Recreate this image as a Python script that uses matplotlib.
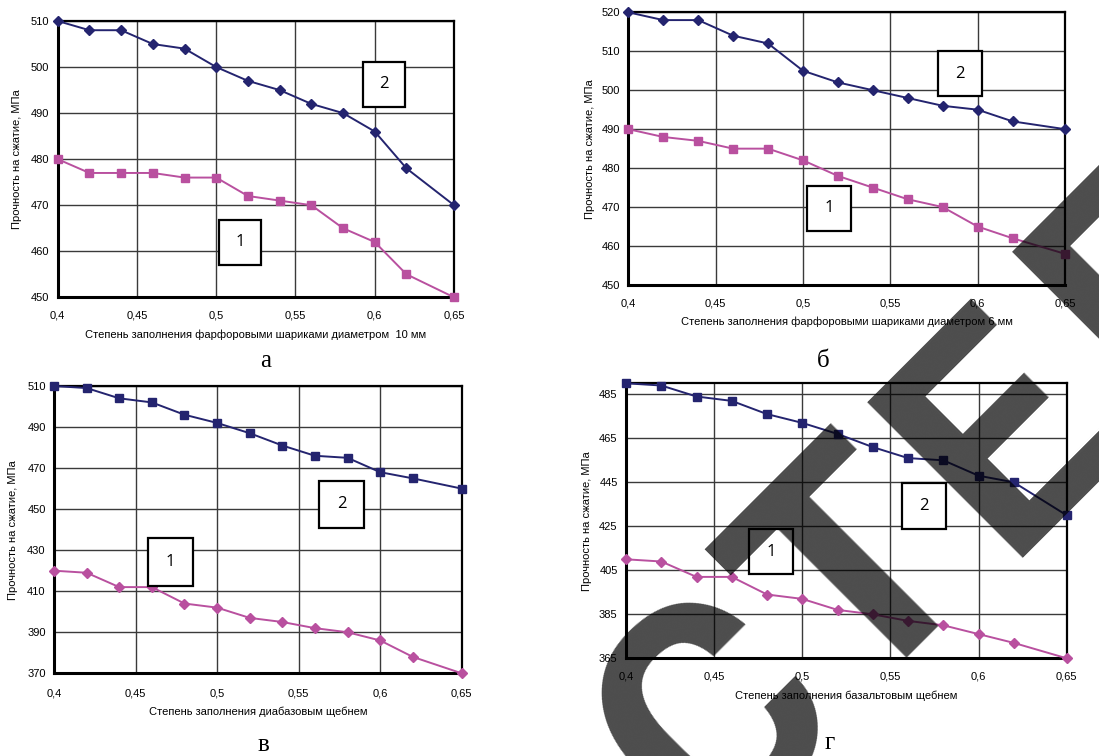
import matplotlib
matplotlib.use("Agg")
import matplotlib.pyplot as plt
from matplotlib.patches import Rectangle

W, H = 1099, 756
DPI = 100

# Filling degree (shared x values for all panels)
fill = [0.40, 0.42, 0.44, 0.46, 0.48, 0.50, 0.52, 0.54, 0.56, 0.58, 0.60, 0.62, 0.65]
x_ticks = [0.40, 0.45, 0.50, 0.55, 0.60, 0.65]
x_tick_labels = ["0,4", "0,45", "0,5", "0,55", "0,6", "0,65"]

# а: porcelain balls 10 mm
a_curve1 = [480, 477, 477, 477, 476, 476, 472, 471, 470, 465, 462, 455, 450]
a_curve2 = [510, 508, 508, 505, 504, 500, 497, 495, 492, 490, 486, 478, 470]
# б: porcelain balls 6 mm
b_curve1 = [490, 488, 487, 485, 485, 482, 478, 475, 472, 470, 465, 462, 458]
b_curve2 = [520, 518, 518, 514, 512, 505, 502, 500, 498, 496, 495, 492, 490]
# в: diabase crushed stone
v_curve1 = [420, 419, 412, 412, 404, 402, 397, 395, 392, 390, 386, 378, 370]
v_curve2 = [510, 509, 504, 502, 496, 492, 487, 481, 476, 475, 468, 465, 460]
# г: basalt crushed stone
g_curve1 = [410, 409, 402, 402, 394, 392, 387, 385, 382, 380, 376, 372, 365]
g_curve2 = [490, 489, 484, 482, 476, 472, 467, 461, 456, 455, 448, 445, 430]

y_label = "Прочность на сжатие, МПа"
x_labels = [
    "Степень заполнения фарфоровыми шариками диаметром  10 мм",
    "Степень заполнения фарфоровыми шариками диаметром 6 мм",
    "Степень заполнения диабазовым щебнем",
    "Степень заполнения базальтовым щебнем",
]
panel_letters = ["а", "б", "в", "г"]

# stamp letters and their anchor points (pixels from top-left)
stamp_letters = ["С", "Т", "Е", "П"]
stamp_centres = [(699, 700), (840, 555), (983, 415), (1143, 249)]

NAVY = "#24246f"
MAGENTA = "#b9509f"

fig = plt.figure(figsize=(W / DPI, H / DPI), dpi=DPI)
fig.patch.set_facecolor("white")


def fig_box(x0, y0, x1, y1):
    """Pixel box (top-left origin) -> figure fraction rect."""
    return [x0 / W, 1 - y1 / H, (x1 - x0) / W, (y1 - y0) / H]


def fx(px):
    return px / W


def fy(py):
    return 1 - py / H


panels = [
    dict(box=(57.7, 21, 454, 297.3), ylim=(450, 510), ystep=10,
         c1=a_curve1, c2=a_curve2, m1="s", m2="D", col1=MAGENTA, col2=NAVY,
         ylab_x=17, xtick_y=314, xlab_y=335, letter=(266, 361),
         boxes=[("2", 363, 62, 405, 107), ("1", 219, 220, 261, 265)]),
    dict(box=(628.3, 12.3, 1065, 285), ylim=(450, 520), ystep=10,
         c1=b_curve1, c2=b_curve2, m1="s", m2="D", col1=MAGENTA, col2=NAVY,
         ylab_x=590, xtick_y=302, xlab_y=322, letter=(823, 361),
         boxes=[("2", 938, 51, 982, 96), ("1", 807, 186, 851, 231)]),
    dict(box=(54, 386, 461.7, 673.3), ylim=(370, 510), ystep=20,
         c1=v_curve1, c2=v_curve2, m1="D", m2="s", col1=MAGENTA, col2=NAVY,
         ylab_x=13, xtick_y=691, xlab_y=712, letter=(263, 745),
         boxes=[("2", 319, 481, 364, 528), ("1", 148, 538, 193, 586)]),
    dict(box=(626, 383.3, 1066.7, 658.3), ylim=(365, 490), ystep=20,
         c1=g_curve1, c2=g_curve2, m1="D", m2="s", col1=MAGENTA, col2=NAVY,
         ylab_x=587, xtick_y=675, xlab_y=696, letter=(830, 743),
         boxes=[("2", 902, 483, 946, 529), ("1", 749, 529, 793, 574)]),
]

tick_font = dict(family="Liberation Sans", size=8)

for i, p in enumerate(panels):
    x0, y0, x1, y1 = p["box"]
    ax = fig.add_axes(fig_box(x0, y0, x1, y1))
    ax.set_xlim(0.40, 0.65)
    ax.set_ylim(*p["ylim"])
    yt = list(range(p["ylim"][0], p["ylim"][1] + 1, p["ystep"]))
    ax.set_yticks(yt)
    ax.set_yticklabels([str(v) for v in yt], **tick_font)
    ax.set_xticks(x_ticks)
    ax.set_xticklabels(x_tick_labels, **tick_font)
    ax.tick_params(length=0, pad=6)
    ax.tick_params(axis="x", pad=(p["xtick_y"] - y1) - 7)
    ax.grid(True, color="#3a3a3a", linewidth=1.0)
    ax.set_axisbelow(True)
    for side in ("left", "bottom"):
        ax.spines[side].set_linewidth(2.2)
    for side in ("top", "right"):
        ax.spines[side].set_linewidth(1.6)
    for s in ax.spines.values():
        s.set_color("black")
        s.set_zorder(2.5)

    ms1 = 6.0 if p["m1"] == "s" else 5.0
    ms2 = 6.0 if p["m2"] == "s" else 5.0
    ax.plot(fill, p["c1"], color=p["col1"], marker=p["m1"], markersize=ms1,
            linewidth=1.4, clip_on=False, zorder=3)
    ax.plot(fill, p["c2"], color=p["col2"], marker=p["m2"], markersize=ms2,
            linewidth=1.4, clip_on=False, zorder=3)

    ax.set_ylabel(y_label, family="Liberation Sans", size=8)
    ax.yaxis.set_label_coords((p["ylab_x"] - x0) / (x1 - x0), 0.5)
    ax.yaxis.label.set_va("center")
    ax.set_xlabel(x_labels[i], family="Liberation Sans", size=8)
    ax.xaxis.set_label_coords(0.5, (y1 - p["xlab_y"]) / (y1 - y0))
    ax.xaxis.label.set_va("center")

    # curve number boxes
    for label, bx0, by0, bx1, by1 in p["boxes"]:
        r = Rectangle((fx(bx0), fy(by1)), (bx1 - bx0) / W, (by1 - by0) / H,
                      transform=fig.transFigure, facecolor="white",
                      edgecolor="black", linewidth=1.6, zorder=5)
        fig.patches.append(r)
        fig.text(fx((bx0 + bx1) / 2), fy((by0 + by1) / 2), label,
                 family="Open Sans", size=12, ha="center", va="center",
                 zorder=6)

    lx, ly = p["letter"]
    fig.text(fx(lx), fy(ly), panel_letters[i], family="Liberation Serif",
             size=18, ha="center", va="center")

# large translucent stamp running diagonally across the lower right
for ch, (cx, cy) in zip(stamp_letters, stamp_centres):
    fig.text(fx(cx), fy(cy), ch, rotation=45, rotation_mode="anchor",
             family="Roboto", fontweight=600, size=222, color="black",
             alpha=0.7, ha="center", va="center_baseline", zorder=20)

fig.savefig("out.png", dpi=DPI, facecolor="white")
